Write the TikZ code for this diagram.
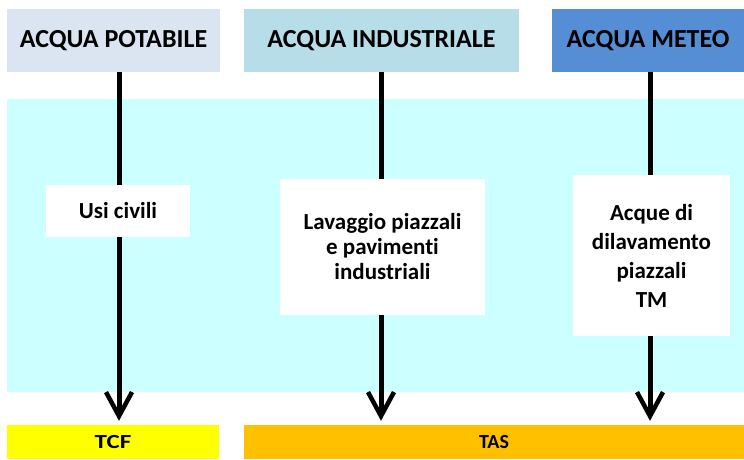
\documentclass[tikz,border=0pt]{standalone}
\usepackage{fontspec}
\setmainfont{Carlito}[Ligatures=NoCommon]
\newfontfamily\tcffont{Carlito Bold}[FakeStretch=1.25]
\usetikzlibrary{arrows.meta}
\definecolor{potab}{HTML}{DBE5F1}
\definecolor{indus}{HTML}{B7DDE8}
\definecolor{meteo}{HTML}{558ED5}
\definecolor{band}{HTML}{CCFFFF}
\definecolor{tcfc}{HTML}{FFFF00}
\definecolor{tasc}{HTML}{FFC000}
\tikzset{
  hdr/.style={draw=none, inner sep=0pt, font=\bfseries\fontsize{26}{30}\selectfont},
  wbox/.style={draw=none, fill=white, inner sep=0pt, align=center, font=\bfseries\fontsize{23}{25}\selectfont},
  bot/.style={draw=none, inner sep=0pt, font=\bfseries\fontsize{20}{24}\selectfont},
  arr/.style={line width=5pt, -{Straight Barb[length=24pt,width=26pt,line width=4.5pt]}, shorten >=4pt}
}
\begin{document}
\begin{tikzpicture}[x=1pt,y=-1pt]
\useasboundingbox (0,0) rectangle (744,459);
\fill[band] (7,99) rectangle (744,392);
\node[hdr, fill=potab, minimum width=213pt, minimum height=63pt] (h1) at (113.5,40.5) {ACQUA POTABILE};
\node[hdr, fill=indus, minimum width=275pt, minimum height=63pt] (h2) at (381.5,40.5) {ACQUA INDUSTRIALE};
\node[hdr, fill=meteo, minimum width=192pt, minimum height=63pt] (h3) at (648,40.5) {ACQUA METEO};
\node[bot, fill=tcfc, minimum width=212pt, minimum height=34pt] (tcf) at (113,442) {\tcffont TCF};
\node[bot, fill=tasc, minimum width=500pt, minimum height=34pt] (tas) at (494,442) {TAS};
\coordinate (c1) at (119,0);
\coordinate (c2) at (381,0);
\coordinate (c3) at (650,0);
\draw[arr] (h1.south -| c1) -- (tcf.north -| c1);
\draw[arr] (h2.south -| c2) -- (tcf.north -| c2);
\draw[arr] (h3.south -| c3) -- (tcf.north -| c3);
\node[wbox, minimum width=144pt, minimum height=52pt] (u) at (118,211) {Usi civili};
\node[wbox, minimum width=205pt, minimum height=136pt] (l) at (382.5,247) {Lavaggio piazzali\\e pavimenti\\industriali};
\node[wbox, minimum width=157pt, minimum height=161pt, font=\bfseries\fontsize{23}{29}\selectfont] (a) at (651.5,255.5) {Acque di\\dilavamento\\piazzali\\TM};
\end{tikzpicture}
\end{document}
